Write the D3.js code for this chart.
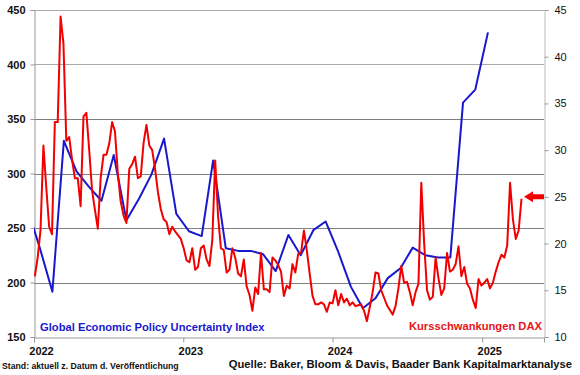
<!DOCTYPE html>
<html>
<head>
<meta charset="utf-8">
<script src="https://d3js.org/d3.v7.min.js"></script>
<style>
  body { margin: 0; background: #fff; }
  svg { font-family: "Liberation Sans", Arial, sans-serif; display: block; }
</style>
</head>
<body>
<div id="chart"></div>
<script>
// Global Economic Policy Uncertainty Index, monatlich (linke Achse)
const epuMonths = ["2021-12", "2022-01", "2022-02", "2022-03", "2022-04", "2022-05", "2022-06",
  "2022-07", "2022-08", "2022-09", "2022-10", "2022-11", "2022-12", "2023-01", "2023-02",
  "2023-03", "2023-04", "2023-05", "2023-06", "2023-07", "2023-08", "2023-09", "2023-10",
  "2023-11", "2023-12", "2024-01", "2024-02", "2024-03", "2024-04", "2024-05", "2024-06",
  "2024-07", "2024-08", "2024-09", "2024-10", "2024-11", "2024-12", "2025-01"];
const epuValues = [269, 232, 191.6, 330, 302, 288, 275, 317, 257, 277, 299, 332, 263, 247, 242.6,
  312, 231.4, 229, 229, 226, 210.5, 243.6, 225, 248, 256, 228, 196, 176.3, 185.5, 204, 213,
  232, 225, 223, 223, 365, 377, 429.5];

// VDAX (Kursschwankungen DAX), wöchentlich ab 03.01.2022 (rechte Achse)
const daxStart = "2022-01-03";
const daxValues = [
  16.5, 18.5, 21.5, 30.5, 26, 21.8, 21, 33, 33, 44.3, 41.4, 31, 31.4, 29, 27, 27, 24, 33.6, 34, 30,
  25.7, 23.6, 21.6, 27, 29.5, 29.5, 30.7, 33, 32, 27.5, 24.5, 23, 22.2, 28, 28.5, 29.3, 27, 27.2, 30.8, 32.7,
  30.5, 30, 28, 25.5, 23.7, 22.6, 22.3, 21, 21.8, 21.3, 20.9, 20.5, 19.5, 18.2, 18.0, 19.5, 17.2, 17.5, 19.5, 19.8,
  18.3, 17.6, 20.4, 28.9, 23, 19.5, 19.3, 16.9, 17.2, 19.5, 18.5, 16.8, 16.5, 18.3, 15.4, 14.5, 12.8, 15.3, 14.6, 19.0,
  15.1, 15.1, 14.8, 18.5, 18.2, 17.7, 17.0, 14.4, 15.5, 15.2, 17.8, 16.9, 18.9, 19.0, 21.4, 19.3, 16.8, 14.4, 13.5, 13.5,
  13.7, 13.5, 12.7, 13.7, 13.6, 15.0, 13.4, 14.6, 13.7, 14.1, 13.4, 13.7, 13.3, 13.4, 13.5, 12.8, 11.7, 13.2, 14.8, 16.9,
  16.8, 15.0, 14.2, 13.4, 12.9, 12.4, 13.3, 15.2, 17.6, 15.8, 15.9, 14.8, 13.4, 14.8, 15.7, 26.5, 20, 15, 14.0, 14.3,
  18.5, 16.3, 14.5, 15.2, 19.0, 17.0, 17.2, 17.8, 19.7, 16.5, 17.5, 15.7, 15.2, 14.0, 13.1, 16.2, 15.5, 15.8, 16.2, 15.2,
  15.8, 17.0, 18.0, 18.8, 18.5, 19.8, 26.5, 22.6, 20.5, 21.4, 24.8
];

const leftTicks = [150, 200, 250, 300, 350, 400, 450];
const rightTicks = [10, 15, 20, 25, 30, 35, 40, 45];
const yearTicks = ["2022", "2023", "2024", "2025"];
const markerLevel = 25; // Pfeil rechts

const width = 580, height = 375;
const margin = {top: 10, right: 36, bottom: 38, left: 34};
const blue = "#1818cc", red = "#f20000";

const parseMonth = d3.timeParse("%Y-%m");
const parseDay = d3.timeParse("%Y-%m-%d");
const parseYear = d3.timeParse("%Y");

const epu = epuMonths.map((m, i) => ({date: d3.timeDay.offset(parseMonth(m), 14), value: epuValues[i]}));
const dax = daxValues.map((v, i) => ({date: d3.timeDay.offset(parseDay(daxStart), 7 * i), value: v}));

const x = d3.scaleTime()
  .domain([new Date(2022, 0, 1), new Date(2025, 5, 1)])
  .range([margin.left, width - margin.right]);
const yL = d3.scaleLinear().domain([150, 450]).range([height - margin.bottom, margin.top]);
const yR = d3.scaleLinear().domain([10, 45]).range([height - margin.bottom, margin.top]);

const svg = d3.select("#chart").append("svg")
  .attr("width", width)
  .attr("height", height);

svg.append("defs").append("clipPath").attr("id", "plot")
  .append("rect")
  .attr("x", margin.left).attr("y", margin.top)
  .attr("width", width - margin.left - margin.right)
  .attr("height", height - margin.top - margin.bottom);

// Gitterlinien
svg.append("g")
  .selectAll("line")
  .data(leftTicks.slice(1))
  .join("line")
  .attr("x1", margin.left).attr("x2", width - margin.right)
  .attr("y1", d => Math.round(yL(d)) + 0.5).attr("y2", d => Math.round(yL(d)) + 0.5)
  .attr("stroke", d => d >= 400 ? "#aaa" : "#808080")
  .attr("stroke-width", 1);

// linke Achse
const axL = svg.append("g")
  .attr("transform", `translate(${margin.left + 0.5},0)`)
  .call(d3.axisLeft(yL).tickValues(leftTicks).tickSize(4).tickPadding(5));
axL.select(".domain").attr("stroke", "#999");
axL.selectAll(".tick line").attr("stroke", "#999");
axL.selectAll("text").attr("font-size", 11).attr("font-weight", "bold")
  .attr("font-family", "Liberation Sans, Arial, sans-serif").attr("fill", "#111");

// rechte Achse
const axR = svg.append("g")
  .attr("transform", `translate(${width - margin.right + 0.5},0)`)
  .call(d3.axisRight(yR).tickValues(rightTicks).tickSize(4).tickPadding(6));
axR.select(".domain").attr("stroke", "#bbb");
axR.selectAll(".tick line").attr("stroke", "#999");
axR.selectAll("text").attr("font-size", 11)
  .attr("font-family", "Liberation Sans, Arial, sans-serif").attr("fill", "#111");

// x-Achse
const axX = svg.append("g")
  .attr("transform", `translate(0,${height - margin.bottom + 0.5})`)
  .call(d3.axisBottom(x).tickValues(yearTicks.map(parseYear)).tickSize(5).tickPadding(5)
    .tickFormat(d3.timeFormat("%Y")));
axX.select(".domain").attr("stroke", "#999");
axX.selectAll(".tick line").attr("stroke", "#999");
axX.selectAll("text").attr("font-size", 11).attr("font-weight", "bold")
  .attr("font-family", "Liberation Sans, Arial, sans-serif").attr("fill", "#111")
  .attr("dx", 7);

const lines = svg.append("g").attr("clip-path", "url(#plot)");

lines.append("path")
  .datum(epu)
  .attr("fill", "none")
  .attr("stroke", blue)
  .attr("stroke-width", 2)
  .attr("stroke-linejoin", "round")
  .attr("d", d3.line().x(d => x(d.date)).y(d => yL(d.value)));

lines.append("path")
  .datum(dax)
  .attr("fill", "none")
  .attr("stroke", red)
  .attr("stroke-width", 2)
  .attr("stroke-linejoin", "round")
  .attr("d", d3.line().x(d => x(d.date)).y(d => yR(d.value)));

// Pfeil auf aktuellem Niveau
const ay = yR(markerLevel), ax = width - margin.right;
svg.append("path")
  .attr("fill", red)
  .attr("d", `M${ax - 20},${ay} L${ax - 11},${ay - 5.5} L${ax - 11},${ay - 2.5} L${ax},${ay - 2.5}
    L${ax},${ay + 2.5} L${ax - 11},${ay + 2.5} L${ax - 11},${ay + 5.5} Z`);

// Beschriftungen
svg.append("text")
  .attr("x", 40).attr("y", 331)
  .attr("font-size", 11.2).attr("font-weight", "bold")
  .attr("fill", blue)
  .text("Global Economic Policy Uncertainty Index");

svg.append("text")
  .attr("x", 542).attr("y", 330)
  .attr("text-anchor", "end")
  .attr("font-size", 11.2).attr("font-weight", "bold")
  .attr("fill", "#e81418")
  .text("Kursschwankungen DAX");

svg.append("text")
  .attr("x", 2).attr("y", 369)
  .attr("font-size", 8.7).attr("font-weight", "bold")
  .attr("fill", "#111")
  .text("Stand: aktuell z. Datum d. Veröffentlichung");

svg.append("text")
  .attr("x", 572).attr("y", 368)
  .attr("text-anchor", "end")
  .attr("font-size", 11.2).attr("font-weight", "bold")
  .attr("fill", "#111")
  .text("Quelle: Baker, Bloom & Davis, Baader Bank Kapitalmarktanalyse");
</script>
</body>
</html>
